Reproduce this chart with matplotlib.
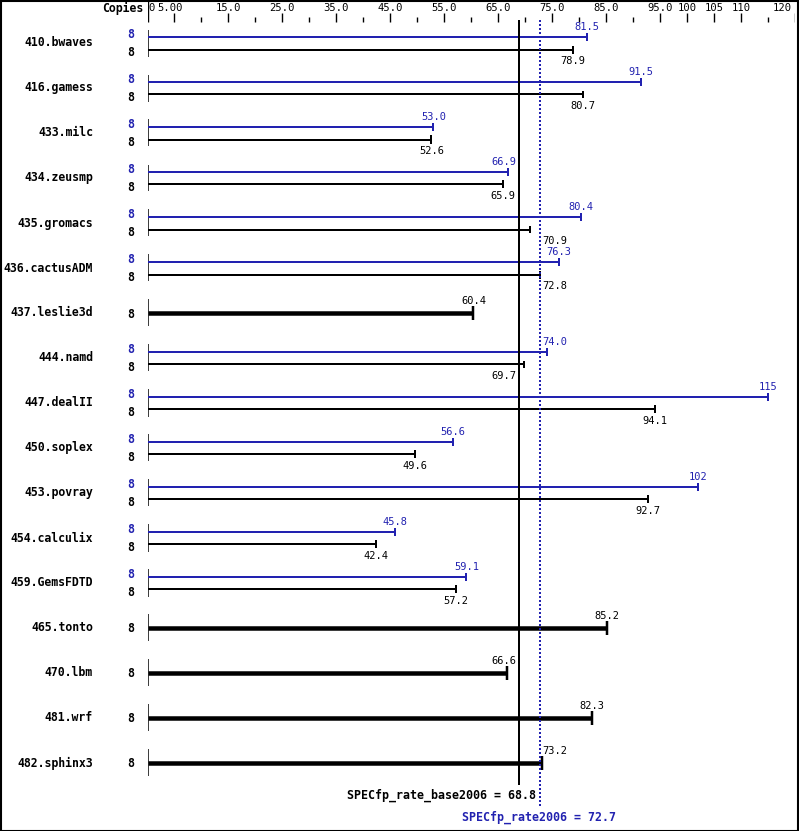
import matplotlib
matplotlib.use("Agg")
import matplotlib.pyplot as plt
from matplotlib.patches import Rectangle

# ---------------- data ----------------
benchmarks = ["410.bwaves", "416.gamess", "433.milc", "434.zeusmp", "435.gromacs",
              "436.cactusADM", "437.leslie3d", "444.namd", "447.dealII", "450.soplex",
              "453.povray", "454.calculix", "459.GemsFDTD", "465.tonto", "470.lbm",
              "481.wrf", "482.sphinx3"]
base_values = [78.9, 80.7, 52.6, 65.9, 70.9, 72.8, 60.4, 69.7, 94.1, 49.6,
               92.7, 42.4, 57.2, 85.2, 66.6, 82.3, 73.2]
peak_values = [81.5, 91.5, 53.0, 66.9, 80.4, 76.3, None, 74.0, 115, 56.6,
               102, 45.8, 59.1, None, None, None, None]
base_labels = ["78.9", "80.7", "52.6", "65.9", "70.9", "72.8", "60.4", "69.7", "94.1", "49.6",
               "92.7", "42.4", "57.2", "85.2", "66.6", "82.3", "73.2"]
peak_labels = ["81.5", "91.5", "53.0", "66.9", "80.4", "76.3", None, "74.0", "115", "56.6",
               "102", "45.8", "59.1", None, None, None, None]
base_copies = [8] * 17
peak_copies = [8, 8, 8, 8, 8, 8, None, 8, 8, 8, 8, 8, 8, None, None, None, None]

tick_values = [0, 5, 15, 25, 35, 45, 55, 65, 75, 85, 95, 100, 105, 110, 120]
tick_texts = ["0", "5.00", "15.0", "25.0", "35.0", "45.0", "55.0", "65.0", "75.0",
              "85.0", "95.0", "100", "105", "110", "120"]
minor_ticks = [10, 20, 30, 40, 50, 60, 70, 80, 90, 115]

base_mean = 68.8
peak_mean = 72.7
base_mean_text = "SPECfp_rate_base2006 = 68.8"
peak_mean_text = "SPECfp_rate2006 = 72.7"

# ---------------- style ----------------
W, H = 799, 831
BLUE = "#2222b0"
BLACK = "#000000"
MONO = ["DejaVu Sans Mono"]
PX = 0.72  # points per pixel at dpi 100

x0_px, x120_px = 147.5, 795.0
row0_px, row_step = 43.0, 45.0

fig = plt.figure(figsize=(W / 100, H / 100), dpi=100)
ax = fig.add_axes([x0_px / W, 0, (x120_px - x0_px) / W, 1])
ax.set_xlim(0, 120)
ax.set_ylim((H - row0_px) / row_step, -row0_px / row_step)
ax.axis("off")

unit_px = (x120_px - x0_px) / 120.0
r = lambda px: px / row_step  # pixel -> row units

# border
fig.patches.append(Rectangle((0.5 / W, 0.5 / H), (W - 1.5) / W, (H - 1.5) / H,
                             transform=fig.transFigure, fill=False,
                             edgecolor="black", linewidth=1.5))

# header
top_y = r(8 - row0_px)
ax.vlines(0, r(0 - row0_px), r(22 - row0_px), color=BLACK, lw=1 * PX * 1.4)
ax.annotate("Copies", xy=(0, top_y), xytext=(-4.5, 0), textcoords="offset pixels",
            ha="right", va="center", fontsize=8.3, fontweight="bold", family=MONO,
            annotation_clip=False)
for i, (v, t) in enumerate(zip(tick_values, tick_texts)):
    ha, dx = "center", 0
    if i == 0:
        ha, dx = "left", 0.5
    elif t == "5.00":
        dx = -4.5
    elif i == len(tick_values) - 1:
        ha, dx = "right", -3
    ax.annotate(t, xy=(v, top_y), xytext=(dx, 0), textcoords="offset pixels",
                ha=ha, va="center", fontsize=7.6, family=MONO, annotation_clip=False)
    if v != 0:
        ax.vlines(v, r(13 - row0_px), r(22 - row0_px), color=BLACK, lw=1.0)
ax.vlines(minor_ticks, r(17 - row0_px), r(22 - row0_px), color=BLACK, lw=1.0)

# label placement that avoids mean lines
def label_center(v, text):
    w = len(text) * 6.3 / unit_px
    gap = 2 / unit_px
    lines = [base_mean, peak_mean]
    def ok(c):
        return all(not (c - w / 2 - gap < L < c + w / 2 + gap) for L in lines)
    if ok(v):
        return v
    cands = []
    for L in lines:
        cands += [L + gap + w / 2, L - gap - w / 2]
    cands = [c for c in cands if ok(c)]
    return min(cands, key=lambda c: abs(c - v))

for i, name in enumerate(benchmarks):
    y = i
    ax.annotate(name, xy=(0, y), xytext=(-54.5, 0), textcoords="offset pixels",
                ha="right", va="center", fontsize=8.3, fontweight="bold", family=MONO,
                annotation_clip=False)
    ax.vlines(0, y - r(13.5), y + r(13.5), color=BLACK, lw=1.5 * PX)
    if peak_values[i] is not None:
        yp, yb = y - r(6), y + r(6.5)
        # peak
        ax.hlines(yp, 0, peak_values[i], color=BLUE, lw=2 * PX)
        ax.vlines(peak_values[i], yp - r(4), yp + r(4), color=BLUE, lw=2 * PX)
        ax.annotate(str(peak_copies[i]), xy=(0, y - r(8.5)), xytext=(-17, 0),
                    textcoords="offset pixels",
                    ha="center", va="center", fontsize=8.3, fontweight="bold",
                    family=MONO, color=BLUE, annotation_clip=False)
        ax.text(label_center(peak_values[i], peak_labels[i]), y - r(16), peak_labels[i],
                ha="center", va="center", fontsize=7.5, family=MONO, color=BLUE)
        # base
        ax.hlines(yb, 0, base_values[i], color=BLACK, lw=2 * PX)
        ax.vlines(base_values[i], yb - r(4), yb + r(4), color=BLACK, lw=2 * PX)
        ax.annotate(str(base_copies[i]), xy=(0, y + r(9.5)), xytext=(-17, 0),
                    textcoords="offset pixels",
                    ha="center", va="center", fontsize=8.3, fontweight="bold",
                    family=MONO, color=BLACK, annotation_clip=False)
        ax.text(label_center(base_values[i], base_labels[i]), y + r(18), base_labels[i],
                ha="center", va="center", fontsize=7.5, family=MONO, color=BLACK)
    else:
        ax.hlines(y, 0, base_values[i], color=BLACK, lw=4.5 * PX)
        ax.vlines(base_values[i], y - r(7), y + r(7), color=BLACK, lw=2.5 * PX)
        ax.annotate(str(base_copies[i]), xy=(0, y + r(1)), xytext=(-17, 0),
                    textcoords="offset pixels",
                    ha="center", va="center", fontsize=8.3, fontweight="bold",
                    family=MONO, color=BLACK, annotation_clip=False)
        ax.text(label_center(base_values[i], base_labels[i]), y - r(12), base_labels[i],
                ha="center", va="center", fontsize=7.5, family=MONO, color=BLACK)

# mean lines
ax.vlines(base_mean, r(20 - row0_px), r(785 - row0_px), color=BLACK, lw=2 * PX)
ax.vlines(peak_mean, r(20 - row0_px), r(808 - row0_px), color=BLUE, lw=2 * PX,
          linestyles=[(0, (1, 1))])
ax.annotate(base_mean_text, xy=(base_mean, r(795 - row0_px)), xytext=(17, 0),
            textcoords="offset pixels", ha="right", va="center", fontsize=8.4,
            fontweight="bold", family=MONO, color=BLACK, annotation_clip=False)
ax.annotate(peak_mean_text, xy=(peak_mean, r(817 - row0_px)), xytext=(-1, 0),
            textcoords="offset pixels", ha="center", va="center", fontsize=8.4,
            fontweight="bold", family=MONO, color=BLUE, annotation_clip=False)

fig.savefig("out.png", dpi=100, facecolor="white")
